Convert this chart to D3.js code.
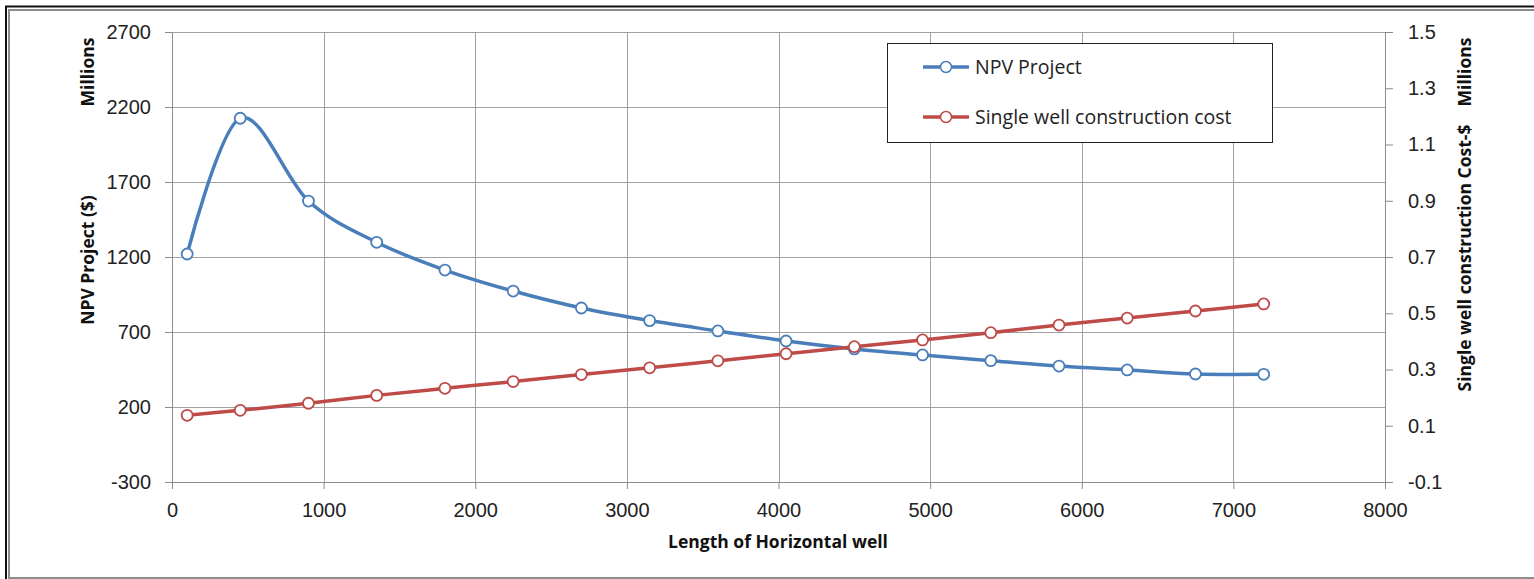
<!DOCTYPE html>
<html>
<head>
<meta charset="utf-8">
<script src="https://cdn.jsdelivr.net/npm/d3@7"></script>
<style>
  body { margin: 0; background: #fff; }
  svg { display: block; font-family: "Open Sans", Lato, sans-serif; }
  .tick text { fill: #222; font-size: 20px; }
  .axis-title { font-weight: bold; font-size: 17.5px; fill: #111; }
</style>
</head>
<body>
<div id="chart"></div>
<script>
// horizontal well length (x) and the two series
var lengths = [100, 450, 900, 1350, 1800, 2250, 2700, 3150, 3600, 4050, 4500, 4950, 5400, 5850, 6300, 6750, 7200]
var npvProject = [1220, 2125, 1573, 1298, 1113, 973, 860, 776, 707, 640, 587, 547, 509, 473, 447, 420, 418]
var wellCost = [0.137, 0.155, 0.180, 0.208, 0.233, 0.257, 0.282, 0.306, 0.331, 0.356, 0.381, 0.405, 0.431, 0.458, 0.483, 0.508, 0.533]

var xTicks = [0, 1000, 2000, 3000, 4000, 5000, 6000, 7000, 8000]
var leftTicks = [-300, 200, 700, 1200, 1700, 2200, 2700]
var rightTicks = [-0.1, 0.1, 0.3, 0.5, 0.7, 0.9, 1.1, 1.3, 1.5]

var seriesNames = ["NPV Project", "Single well construction cost"]

function run() {
    const width = 1534
    const height = 579
    const margin = ({ top: 32, right: 149, bottom: 97, left: 172 })

    const color = d3.scaleOrdinal(seriesNames, ['#4a7ebb', '#be4b48'])

    var x = d3.scaleLinear()
        .domain([0, 8000])
        .range([margin.left, width - margin.right])

    var yLeft = d3.scaleLinear()
        .domain([-300, 2700])
        .range([height - margin.bottom, margin.top])

    var yRight = d3.scaleLinear()
        .domain([-0.1, 1.5])
        .range([height - margin.bottom, margin.top])

    var svg = d3.select('#chart')
        .append('svg')
        .attr('width', width)
        .attr('height', height)

    // frame
    svg.append('rect')
        .attr('x', 9).attr('y', 10)
        .attr('width', width + 20).attr('height', height - 11)
        .attr('fill', 'none')
        .attr('stroke', '#8c8c8c')
        .attr('stroke-width', 2)
    svg.append('path')
        .attr('d', `M6,${height} V6.5 H${width}`)
        .attr('fill', 'none')
        .attr('stroke', '#111')
        .attr('stroke-width', 2)

    // gridlines
    svg.append('g')
        .attr('stroke', '#a0a0a0')
        .attr('stroke-width', 1)
        .call(g => g.selectAll('line.h')
            .data(leftTicks)
            .join('line')
            .attr('class', 'h')
            .attr('x1', margin.left).attr('x2', width - margin.right)
            .attr('y1', d => Math.round(yLeft(d)) + 0.5)
            .attr('y2', d => Math.round(yLeft(d)) + 0.5))
        .call(g => g.selectAll('line.v')
            .data(xTicks.slice(1))
            .join('line')
            .attr('class', 'v')
            .attr('x1', d => Math.round(x(d)) + 0.5)
            .attr('x2', d => Math.round(x(d)) + 0.5)
            .attr('y1', margin.top).attr('y2', height - margin.bottom))

    var xAxis = g => g
        .attr('transform', `translate(0,${height - margin.bottom})`)
        .call(d3.axisBottom(x).tickValues(xTicks).tickSize(7).tickPadding(14)
            .tickFormat(d => String(d)).tickSizeOuter(0))

    var leftAxis = g => g
        .attr('transform', `translate(${margin.left},0)`)
        .call(d3.axisLeft(yLeft).tickValues(leftTicks).tickSize(7).tickPadding(14)
            .tickFormat(d => String(d)).tickSizeOuter(0))

    var rightAxis = g => g
        .attr('transform', `translate(${width - margin.right},0)`)
        .call(d3.axisRight(yRight).tickValues(rightTicks).tickSize(8).tickPadding(15)
            .tickFormat(d => d.toFixed(1)).tickSizeOuter(0))

    ;[xAxis, leftAxis, rightAxis].forEach(ax => {
        svg.append('g')
            .call(ax)
            .call(g => g.selectAll('.domain, .tick line').attr('stroke', '#8c8c8c'))
            .call(g => g.selectAll('.tick text').attr('font-size', null).attr('font-family', null))
    })

    // series lines
    var npvLine = d3.line()
        .x((d, i) => x(lengths[i]))
        .y(d => yLeft(d))
        .curve(d3.curveCardinal.tension(0))

    var costLine = d3.line()
        .x((d, i) => x(lengths[i]))
        .y(d => yRight(d))
        .curve(d3.curveCardinal.tension(0))

    svg.append('path')
        .datum(npvProject)
        .attr('fill', 'none')
        .attr('stroke', color(seriesNames[0]))
        .attr('stroke-width', 3.5)
        .attr('d', npvLine)

    svg.append('path')
        .datum(wellCost)
        .attr('fill', 'none')
        .attr('stroke', color(seriesNames[1]))
        .attr('stroke-width', 3.5)
        .attr('d', costLine)

    svg.append('g')
        .selectAll('circle')
        .data(npvProject)
        .join('circle')
        .attr('cx', (d, i) => x(lengths[i]))
        .attr('cy', d => yLeft(d))
        .attr('r', 5.5)
        .attr('fill', '#fff')
        .attr('stroke', color(seriesNames[0]))
        .attr('stroke-width', 1.8)

    svg.append('g')
        .selectAll('circle')
        .data(wellCost)
        .join('circle')
        .attr('cx', (d, i) => x(lengths[i]))
        .attr('cy', d => yRight(d))
        .attr('r', 5.5)
        .attr('fill', '#fff')
        .attr('stroke', color(seriesNames[1]))
        .attr('stroke-width', 1.8)

    // axis titles
    svg.append('text')
        .attr('class', 'axis-title')
        .attr('x', 778).attr('y', 548)
        .attr('text-anchor', 'middle')
        .text('Length of Horizontal well')

    var vTitle = (tx, ty, str) => svg.append('text')
        .attr('class', 'axis-title')
        .attr('transform', `translate(${tx},${ty}) rotate(-90)`)
        .attr('text-anchor', 'middle')
        .attr('dy', '0.35em')
        .text(str)

    vTitle(88, 260, 'NPV Project ($)')
    vTitle(88, 72, 'Millions')
    vTitle(1465, 258, 'Single well construction Cost-$')
    vTitle(1465, 72, 'Millions')

    // legend
    var legend = svg.append('g')
    legend.append('rect')
        .attr('x', 887.5).attr('y', 43.5)
        .attr('width', 385).attr('height', 99)
        .attr('fill', '#fff')
        .attr('stroke', '#222')
        .attr('stroke-width', 1)

    var item = legend.selectAll('g')
        .data(seriesNames)
        .join('g')
        .attr('transform', (d, i) => `translate(0,${67 + i * 50})`)

    item.append('line')
        .attr('x1', 923).attr('x2', 969)
        .attr('stroke', d => color(d))
        .attr('stroke-width', 3.5)

    item.append('circle')
        .attr('cx', 946).attr('r', 5.5)
        .attr('fill', '#fff')
        .attr('stroke', d => color(d))
        .attr('stroke-width', 1.5)

    item.append('text')
        .attr('x', 975)
        .attr('dy', '0.35em')
        .attr('font-size', 19.5)
        .attr('fill', '#222')
        .text(d => d)
}

run()
</script>
</body>
</html>
